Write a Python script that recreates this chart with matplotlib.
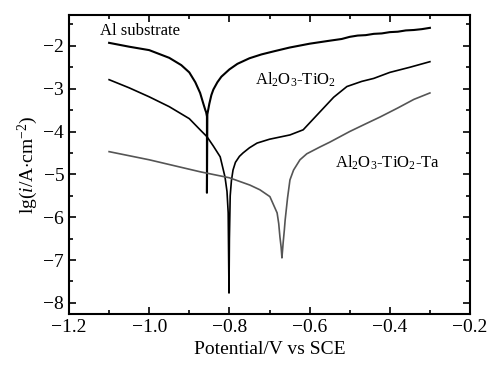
import matplotlib
matplotlib.use('Agg')
from matplotlib import pyplot as plt
from matplotlib.ticker import MultipleLocator

plt.rcParams['font.family'] = ['Liberation Serif', 'DejaVu Serif']
plt.rcParams['mathtext.fontset'] = 'custom'
plt.rcParams['mathtext.rm'] = 'Liberation Serif'
plt.rcParams['mathtext.it'] = 'Liberation Serif:italic'

# Al substrate
al_v = [-1.10, -1.05, -1.00, -0.95, -0.92, -0.90, -0.885, -0.873, -0.865,
        -0.860, -0.858, -0.857, -0.856, -0.856, -0.855, -0.853, -0.850,
        -0.845, -0.84, -0.83, -0.82, -0.80, -0.78, -0.75, -0.72, -0.69,
        -0.65, -0.60, -0.55, -0.52, -0.50, -0.48, -0.46, -0.44, -0.42,
        -0.40, -0.38, -0.36, -0.34, -0.32, -0.30]
al_lg = [-1.93, -2.02, -2.10, -2.28, -2.45, -2.62, -2.85, -3.10, -3.35,
         -3.50, -3.55, -3.60, -3.65, -5.43, -3.60, -3.50, -3.35, -3.15,
         -3.02, -2.85, -2.72, -2.55, -2.42, -2.29, -2.20, -2.13, -2.04,
         -1.95, -1.88, -1.84, -1.79, -1.76, -1.75, -1.72, -1.71, -1.68,
         -1.67, -1.64, -1.63, -1.61, -1.58]

# Al2O3-TiO2
ti_v = [-1.10, -1.05, -1.00, -0.95, -0.90, -0.873, -0.856, -0.84, -0.823,
        -0.811, -0.806, -0.803, -0.801, -0.800, -0.798, -0.795, -0.791,
        -0.785, -0.775, -0.766, -0.75, -0.731, -0.70, -0.649, -0.616,
        -0.60, -0.574, -0.54, -0.507, -0.47, -0.44, -0.40, -0.35, -0.30]
ti_lg = [-2.79, -2.98, -3.19, -3.42, -3.70, -3.96, -4.12, -4.34, -4.59,
         -5.06, -5.40, -5.90, -7.77, -6.50, -5.50, -5.15, -4.90, -4.72,
         -4.58, -4.50, -4.38, -4.27, -4.18, -4.08, -3.96, -3.80, -3.54,
         -3.20, -2.95, -2.83, -2.76, -2.62, -2.50, -2.37]

# Al2O3-TiO2-Ta
ta_v = [-1.10, -1.00, -0.923, -0.873, -0.80, -0.749, -0.724, -0.699,
        -0.681, -0.677, -0.674, -0.671, -0.669, -0.666, -0.663, -0.661,
        -0.655, -0.649, -0.64, -0.624, -0.607, -0.574, -0.55, -0.524,
        -0.50, -0.46, -0.424, -0.38, -0.34, -0.30]
ta_lg = [-4.47, -4.66, -4.83, -4.94, -5.08, -5.25, -5.36, -5.52,
         -5.90, -6.15, -6.46, -6.70, -6.95, -6.60, -6.30, -6.07,
         -5.55, -5.13, -4.90, -4.66, -4.52, -4.36, -4.25, -4.12,
         -4.00, -3.82, -3.66, -3.45, -3.25, -3.10]

fig = plt.figure(figsize=(4.87, 3.78), dpi=100)
ax = fig.add_axes([69 / 487, 1 - 314 / 378, 401 / 487, 299 / 378])

ax.plot(al_v, al_lg, color='black', lw=1.5)
ax.plot(ti_v, ti_lg, color='black', lw=1.2)
ax.plot(ta_v, ta_lg, color='#555555', lw=1.2)

ax.text(-1.123, -1.65, 'Al substrate', fontsize=12, va='center')
ax.text(-0.736, -2.79, r'Al$_2$O$_3$-TiO$_2$', fontsize=12, va='center')
ax.text(-0.537, -4.73, r'Al$_2$O$_3$-TiO$_2$-Ta', fontsize=12, va='center')

ax.set_xlim(-1.2, -0.2)
ax.set_ylim(-8.26, -1.28)
ax.xaxis.set_major_locator(MultipleLocator(0.2))
ax.xaxis.set_minor_locator(MultipleLocator(0.1))
ax.yaxis.set_major_locator(MultipleLocator(1))
ax.yaxis.set_minor_locator(MultipleLocator(0.5))
ax.tick_params(which='both', direction='in', top=True, right=True,
               labelsize=14, width=1.2)
ax.tick_params(which='major', length=5)
ax.tick_params(which='minor', length=3)
ax.xaxis.set_major_formatter(plt.FuncFormatter(
    lambda v, p: ('%.1f' % v).replace('-', '\u2212')))
for s in ax.spines.values():
    s.set_linewidth(1.5)

ax.set_xlabel('Potential/V vs SCE', fontsize=14)
ax.set_ylabel(r'lg($\mathit{i}$/A$\cdot$cm$^{-2}$)', fontsize=14, labelpad=2)

fig.savefig('out.png', dpi=100)
